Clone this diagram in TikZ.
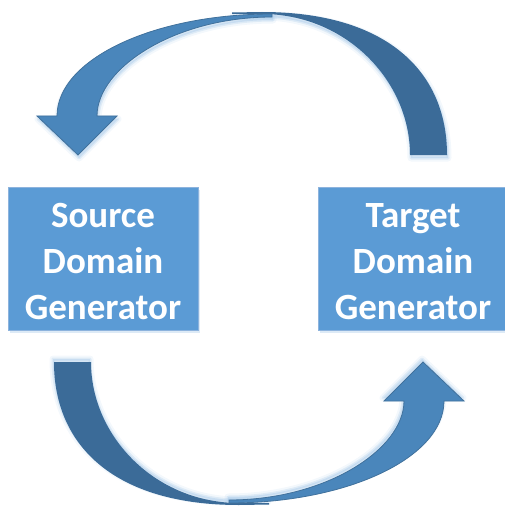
\documentclass[tikz,border=0pt]{standalone}
\usepackage{fontspec}
\setmainfont{Carlito}
\definecolor{boxfill}{HTML}{5B9BD5}
\definecolor{boxline}{HTML}{8DB3DD}
\definecolor{frontfill}{HTML}{4A86BB}
\definecolor{frontline}{HTML}{41719C}
\definecolor{backfill}{HTML}{3B6B98}
\definecolor{haze}{HTML}{9DC3E6}
% outlines of the curved arrow, drawn for the upper arrow
\def\backBand{(232,12.5) -- (262,12) .. controls (385,12) and (447,70) .. (447,155) -- (410,155) .. controls (410,80) and (345,14) .. (262,14) -- (232,14) -- cycle}
\def\frontBand{(272,14) .. controls (152,14) and (57,60) .. (57,116) -- (37,116) -- (78,155) -- (117,116) -- (97,116) .. controls (97,68) and (175,17) .. (272,17) -- cycle}
\newcommand\curvedArrow{%
  \begin{scope}[shift={(1,3)}]
    \path[glow, line width=7pt, opacity=.12] \backBand;
    \path[glow, line width=3pt, opacity=.25] \backBand;
  \end{scope}
  \fill[backfill] \backBand;
  \begin{scope}[shift={(1,3)}]
    \path[glow, line width=7pt, opacity=.12] \frontBand;
    \path[glow, line width=3pt, opacity=.25] \frontBand;
  \end{scope}
  \filldraw[fill=frontfill, draw=frontline, line width=.8pt, line join=miter] \frontBand;
}
\begin{document}
\begin{tikzpicture}[x=1pt, y=-1pt,
  glow/.style={draw=haze, fill=haze, line join=round},
  genbox/.style={draw=boxline, fill=boxfill, line width=1pt, minimum width=190pt,
    minimum height=143pt, inner sep=0pt},
  genlabel/.style={inner sep=0pt, align=center, text=white,
    font=\fontsize{37}{46}\selectfont\bfseries}]
  \useasboundingbox (0,0) rectangle (505,508);
  % feedback loop: upper arrow and its half-turn copy below
  \curvedArrow
  \begin{scope}[rotate around={180:(250.5,258.5)}]
    \curvedArrow
  \end{scope}
  % the two generators
  \fill[haze, opacity=.35] (10,190) rectangle (200,333);
  \fill[haze, opacity=.35] (320,190) rectangle (510,333);
  \node[genbox] (src) at (103,258.5) {};
  \node[genbox] (tgt) at (413,258.5) {};
  \node[genlabel] (srcText) at ([yshift=-3pt]src.center) {Source\\Domain\\Generator};
  \node[genlabel] (tgtText) at ([yshift=-3pt]tgt.center) {Target\\Domain\\Generator};
\end{tikzpicture}
\end{document}
